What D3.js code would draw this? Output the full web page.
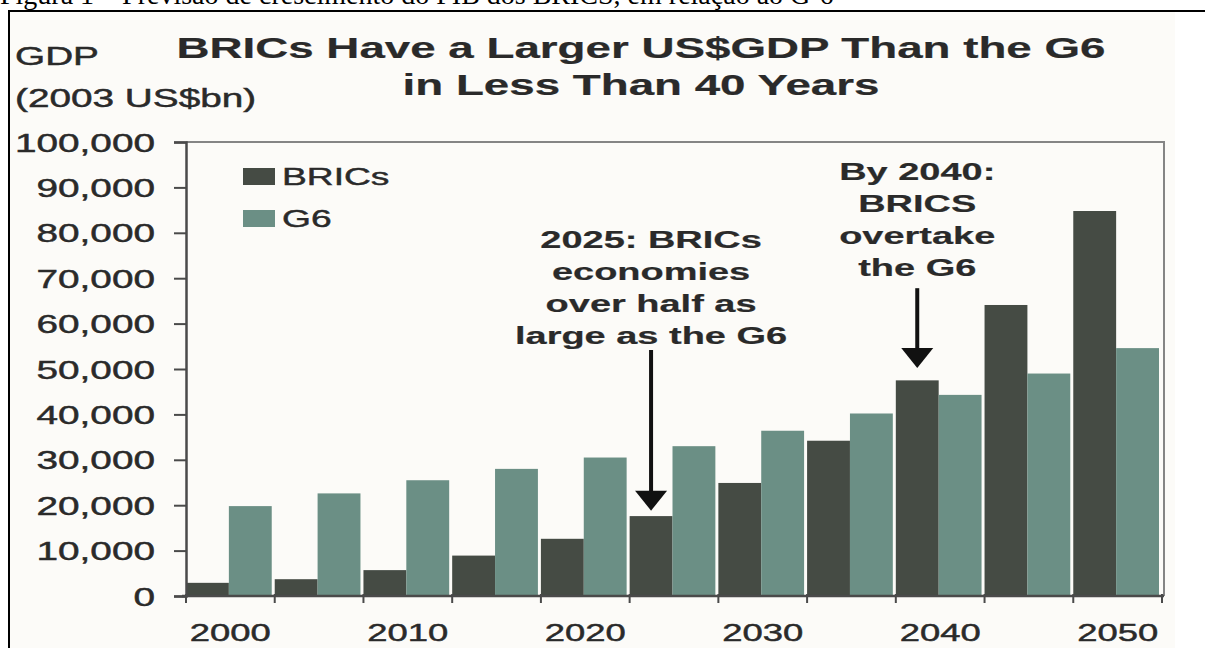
<!DOCTYPE html>
<html>
<head>
<meta charset="utf-8">
<script src="https://cdn.jsdelivr.net/npm/d3@7"></script>
<style>
  html, body { margin: 0; padding: 0; background: #ffffff; }
  svg { display: block; }
  text { font-family: "Liberation Sans", Arial, sans-serif; fill: #2a2a2a; }
</style>
</head>
<body>
<svg id="chart" width="1205" height="648"></svg>
<script>
// GDP in 2003 US$bn, five-year steps
const years = [2000, 2005, 2010, 2015, 2020, 2025, 2030, 2035, 2040, 2045, 2050];
const seriesNames = ["BRICs", "G6"];
const bricsGDP = [2900, 3700, 5700, 8900, 12600, 17600, 24900, 34200, 47500, 64100, 84800];
const g6GDP = [19800, 22600, 25500, 28000, 30500, 33000, 36400, 40200, 44300, 49000, 54600];
const yTicks = [0, 10000, 20000, 30000, 40000, 50000, 60000, 70000, 80000, 90000, 100000];
const xTickLabels = [2000, 2010, 2020, 2030, 2040, 2050];

const titleLines = ["BRICs Have a Larger US$GDP Than the G6", "in Less Than 40 Years"];
const unitLines = ["GDP", "(2003 US$bn)"];
const captionText = "Figura 1 – Previsão de crescimento do PIB dos BRICS, em relação ao G-6";

// callouts: text lines, the year whose BRICs bar they point at, arrow start/end in GDP units
const callouts = [
  { year: 2025, lines: ["2025: BRICs", "economies", "over half as", "large as the G6"], from: 54200, to: 18800, textTop: 248 },
  { year: 2040, lines: ["By 2040:", "BRICS", "overtake", "the G6"], from: 67800, to: 50200, textTop: 180 }
];

const colors = { BRICs: "#454b44", G6: "#6b8f85" };
const SX = 1.55; // horizontal stretch of the lettering

const svg = d3.select("#chart");

// page frame and panel background
svg.append("rect").attr("x", 10).attr("y", 12).attr("width", 1165).attr("height", 636).attr("fill", "#fcfbf8");
svg.append("text")
  .attr("x", 0).attr("y", 4)
  .style("font-family", "'Liberation Serif', 'Times New Roman', serif")
  .style("font-size", "28px").style("fill", "#000")
  .text(captionText);
svg.append("line").attr("x1", 9).attr("x2", 1205).attr("y1", 11).attr("y2", 11).attr("stroke", "#000").attr("stroke-width", 2);
svg.append("line").attr("x1", 9).attr("x2", 9).attr("y1", 10).attr("y2", 648).attr("stroke", "#000").attr("stroke-width", 2);

function stretchedText(parent, x, y, str, opts) {
  const g = parent.append("g").attr("transform", `translate(${x},${y})`);
  const t = g.append("text")
    .attr("transform", `scale(${SX},1)`)
    .attr("text-anchor", opts.anchor || "start")
    .style("font-size", opts.size + "px")
    .style("font-weight", opts.weight || "normal")
    .style("stroke", "#2a2a2a")
    .style("stroke-width", opts.weight === "bold" ? 0.2 : 0.45)
    .text(str);
  return t;
}

// titles
titleLines.forEach((s, i) => stretchedText(svg, 641, 58 + i * 37, s, { anchor: "middle", size: 29.5, weight: "bold" }));
unitLines.forEach((s, i) => stretchedText(svg, 15, 65 + i * 42, s, { size: 25 }));

// scales
const plot = { left: 186, right: 1162, top: 142, bottom: 596 };
const x = d3.scaleBand().domain(years).range([plot.left, plot.right]).padding(0);
const bw = x.bandwidth();
const x1 = d3.scaleBand().domain(seriesNames).range([0, bw - 3]).padding(0);
const y = d3.scaleLinear().domain([0, 100000]).range([plot.bottom, plot.top]);

const rows = years.map((yr, i) => ({ year: yr, BRICs: bricsGDP[i], G6: g6GDP[i] }));

// plot frame (top and right edges)
svg.append("path")
  .attr("d", `M${plot.left},${plot.top}H${plot.right + 2}V${plot.bottom}`)
  .attr("fill", "none").attr("stroke", "#858585").attr("stroke-width", 2);

// bars
const groups = svg.append("g").selectAll("g").data(rows).join("g")
  .attr("transform", d => `translate(${x(d.year)},0)`);
groups.selectAll("rect")
  .data(d => seriesNames.map(k => ({ key: k, value: d[k] })))
  .join("rect")
  .attr("x", d => x1(d.key))
  .attr("width", x1.bandwidth())
  .attr("y", d => y(d.value))
  .attr("height", d => y(0) - y(d.value))
  .attr("fill", d => colors[d.key]);

// y axis
const yAxis = svg.append("g").attr("transform", `translate(${plot.left},0)`)
  .call(d3.axisLeft(y).tickValues(yTicks).tickSize(12).tickFormat(d3.format(",")));
yAxis.select(".domain").attr("stroke", "#4a4a4a").attr("stroke-width", 2.5);
yAxis.selectAll(".tick line").attr("stroke", "#4a4a4a").attr("stroke-width", 2);
yAxis.selectAll(".tick text")
  .attr("x", null).attr("dy", null)
  .attr("transform", `translate(-31,9) scale(${SX},1)`)
  .attr("text-anchor", "end")
  .style("font-size", "25px").style("font-family", "'Liberation Sans', Arial, sans-serif")
  .style("fill", "#2a2a2a").style("stroke", "#2a2a2a").style("stroke-width", 0.45);

// x axis: baseline, boundary ticks and decade labels
const xAxis = svg.append("g");
xAxis.append("line").attr("x1", plot.left - 4).attr("x2", plot.right + 2)
  .attr("y1", y(0)).attr("y2", y(0)).attr("stroke", "#4a4a4a").attr("stroke-width", 2.5);
const bounds = years.map(d => x(d)).concat([x(years[years.length - 1]) + bw]);
xAxis.selectAll("line.tk").data(bounds).join("line").attr("class", "tk")
  .attr("x1", d => d).attr("x2", d => d)
  .attr("y1", y(0) - 2).attr("y2", y(0) + 7)
  .attr("stroke", "#4a4a4a").attr("stroke-width", 2);
xTickLabels.forEach(yr => stretchedText(xAxis, x(yr) + bw / 2, 641, String(yr), { anchor: "middle", size: 23.5 }));

// legend
const legend = svg.append("g");
seriesNames.forEach((k, i) => {
  legend.append("rect").attr("x", 243).attr("y", 168 + i * 42).attr("width", 32).attr("height", 17).attr("fill", colors[k]);
  stretchedText(legend, 282, 185 + i * 42, k, { size: 24 });
});

// callouts with arrows
callouts.forEach(c => {
  const cx = x(c.year) + x1("BRICs") + x1.bandwidth() / 2;
  c.lines.forEach((s, i) => stretchedText(svg, cx, c.textTop + i * 32, s, { anchor: "middle", size: 24.5, weight: "bold" }));
  const yTip = y(c.to), yFrom = y(c.from);
  svg.append("line").attr("x1", cx).attr("x2", cx).attr("y1", yFrom).attr("y2", yTip - 15)
    .attr("stroke", "#111").attr("stroke-width", 4);
  svg.append("path")
    .attr("d", `M${cx - 16},${yTip - 20}L${cx + 16},${yTip - 20}L${cx},${yTip}Z`)
    .attr("fill", "#111");
});
</script>
</body>
</html>
